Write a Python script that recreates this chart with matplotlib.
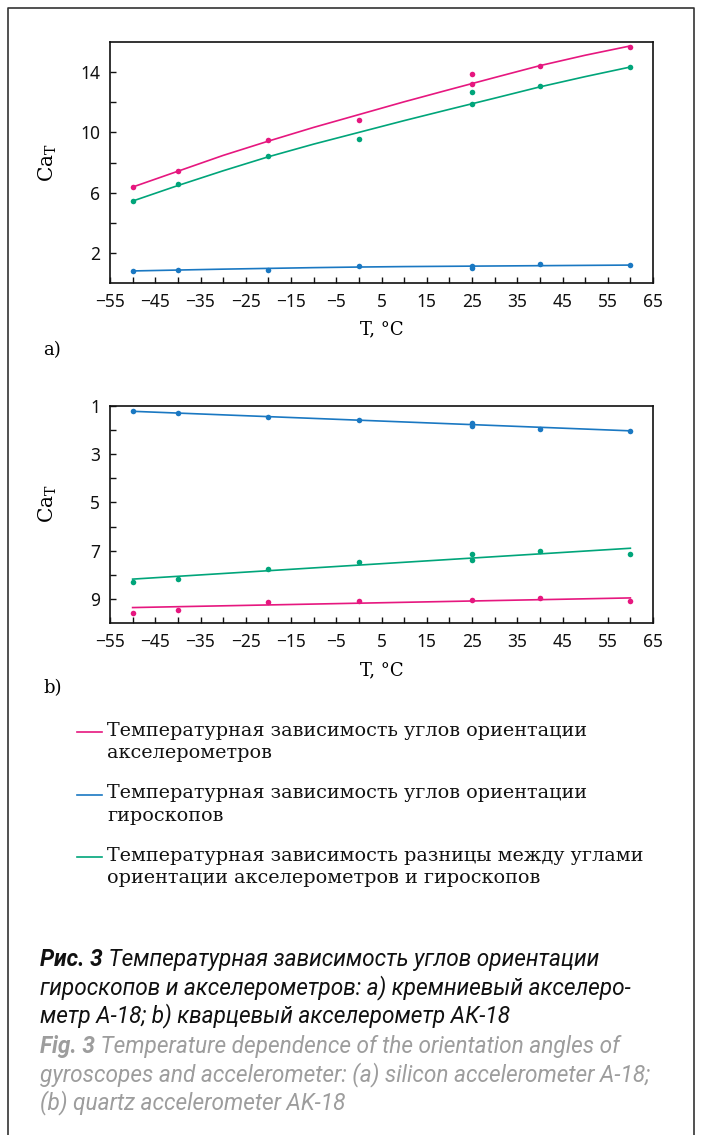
import matplotlib
matplotlib.use("Agg")
import matplotlib.pyplot as plt
from matplotlib.lines import Line2D
from matplotlib.text import Annotation
from matplotlib.ticker import MultipleLocator, FixedLocator

plt.rcParams["mathtext.fontset"] = "dejavuserif"

PINK = "#e6177f"
BLUE = "#1a78c2"
GREEN = "#00a57a"

SANS = ["Noto Sans", "DejaVu Sans"]
SERIF = ["DejaVu Serif"]
CAPTION = ["Roboto", "DejaVu Sans"]

# --- panel a) silicon accelerometer A-18 ---
a_t_accel = [-50, -40, -20, 0, 25, 25, 40, 60]
a_accel = [6.37, 7.43, 9.48, 10.81, 13.86, 13.24, 14.43, 15.69]
a_t_gyro = [-50, -40, -20, 0, 25, 25, 40, 60]
a_gyro = [0.80, 0.84, 0.84, 1.10, 1.13, 0.97, 1.26, 1.19]
a_t_diff = [-50, -40, -20, 0, 25, 25, 40, 60]
a_diff = [5.44, 6.56, 8.42, 9.53, 12.66, 11.91, 13.06, 14.34]

a_t_fit = [-50, -40, -30, -20, -10, 0, 10, 20, 30, 40, 50, 60]
a_accel_fit = [6.37, 7.42, 8.47, 9.42, 10.33, 11.18, 12.03, 12.84, 13.64, 14.43, 15.12, 15.74]
a_gyro_fit = [0.80, 0.86, 0.92, 0.97, 1.02, 1.06, 1.09, 1.11, 1.13, 1.15, 1.17, 1.19]
a_diff_fit = [5.44, 6.47, 7.45, 8.38, 9.22, 10.0, 10.78, 11.53, 12.27, 13.02, 13.70, 14.34]

# --- panel b) quartz accelerometer AK-18 ---
b_t_accel = [-50, -40, -20, 0, 25, 40, 60]
b_accel = [9.58, 9.47, 9.13, 9.10, 9.03, 8.96, 9.07]
b_t_gyro = [-50, -40, -20, 0, 25, 25, 40, 60]
b_gyro = [1.22, 1.30, 1.44, 1.59, 1.69, 1.81, 1.95, 2.05]
b_t_diff = [-50, -40, -20, 0, 25, 25, 40, 60]
b_diff = [8.29, 8.19, 7.76, 7.49, 7.12, 7.40, 7.00, 7.12]

b_t_fit = [-50, 60]
b_accel_fit = [9.36, 8.96]
b_gyro_fit = [1.22, 2.03]
b_diff_fit = [8.18, 6.90]

x_major = [-55, -45, -35, -25, -15, -5, 5, 15, 25, 35, 45, 55, 65]

legend_labels = [
    "Температурная зависимость углов ориентации\nакселерометров",
    "Температурная зависимость углов ориентации\nгироскопов",
    "Температурная зависимость разницы между углами\nориентации акселерометров и гироскопов",
]
legend_colors = [PINK, BLUE, GREEN]

cap_ru_bold = "Рис. 3"
cap_ru = [
    "Температурная зависимость углов ориентации",
    "гироскопов и акселерометров: a) кремниевый акселеро-",
    "метр А-18; b) кварцевый акселерометр АК-18",
]
cap_en_bold = "Fig. 3"
cap_en = [
    "Temperature dependence of the orientation angles of",
    "gyroscopes and accelerometer: (a) silicon accelerometer A-18;",
    "(b) quartz accelerometer AK-18",
]

W, H = 701, 1135
fig = plt.figure(figsize=(W / 100, H / 100), dpi=100)


def fx(px):
    return px / W


def fy(py):
    return 1 - py / H


def style_axes(ax):
    for sp in ax.spines.values():
        sp.set_linewidth(1.2)
        sp.set_color("#111111")
    ax.set_xlim(-55, 65)
    ax.xaxis.set_major_locator(FixedLocator(x_major))
    ax.xaxis.set_minor_locator(MultipleLocator(10))
    ax.tick_params(which="both", direction="in", length=4.5, width=1.0,
                   top=False, right=False, colors="#111111")
    ax.tick_params(which="major", pad=7, labelsize=12.5)
    for lab in ax.get_xticklabels() + ax.get_yticklabels():
        lab.set_family(SANS)
    ax.set_xlabel("T, °C", family=SERIF, fontsize=13)
    ax.text(-0.114, 0.5, r"Ca$_{\mathrm{T}}$", transform=ax.transAxes,
            rotation=90, ha="center", va="center", fontsize=14.5, family=SERIF)


def draw(ax, t, vals, t_fit, fit, color):
    ax.plot(t_fit, fit, color=color, lw=1.2, zorder=2)
    ax.plot(t, vals, "o", color=color, ms=4, mew=0, zorder=3)


# panel a
ax1 = fig.add_axes([fx(110), fy(283), fx(543), (283 - 42) / H])
draw(ax1, a_t_accel, a_accel, a_t_fit, a_accel_fit, PINK)
draw(ax1, a_t_gyro, a_gyro, a_t_fit, a_gyro_fit, BLUE)
draw(ax1, a_t_diff, a_diff, a_t_fit, a_diff_fit, GREEN)
ax1.set_ylim(0, 16)
ax1.yaxis.set_major_locator(FixedLocator([2, 6, 10, 14]))
ax1.yaxis.set_minor_locator(FixedLocator([4, 8, 12]))
style_axes(ax1)
ax1.xaxis.set_label_coords(0.5, -0.155)
fig.text(fx(43), fy(350), "a)", family=SERIF, fontsize=13, va="center")

# panel b
ax2 = fig.add_axes([fx(110), fy(623), fx(543), (623 - 406) / H])
draw(ax2, b_t_accel, b_accel, b_t_fit, b_accel_fit, PINK)
draw(ax2, b_t_gyro, b_gyro, b_t_fit, b_gyro_fit, BLUE)
draw(ax2, b_t_diff, b_diff, b_t_fit, b_diff_fit, GREEN)
ax2.set_ylim(10, 1)
ax2.yaxis.set_major_locator(FixedLocator([1, 3, 5, 7, 9]))
ax2.yaxis.set_minor_locator(FixedLocator([2, 4, 6, 8]))
style_axes(ax2)
ax2.texts[0].set_y(0.55)
ax2.xaxis.set_label_coords(0.5, -0.175)
fig.text(fx(43), fy(688), "b)", family=SERIF, fontsize=13, va="center")

# legend (manual, handle aligned with first text line)
for i, (lab, col) in enumerate(zip(legend_labels, legend_colors)):
    y0 = 732 + i * 62.5
    fig.add_artist(Line2D([fx(77), fx(102)], [fy(y0), fy(y0)], color=col, lw=1.2))
    fig.text(fx(107), fy(y0 - 10), lab, family=SERIF, fontsize=13.8,
             va="top", ha="left", linespacing=1.3, color="#111111")

# caption
def caption_block(bold, lines, y_first, color):
    first = fig.text(fx(40), fy(y_first), bold, family=CAPTION, style="italic",
                     weight="bold", fontsize=16.3, color=color, va="baseline")
    fig.add_artist(Annotation(" " + lines[0], xy=(1, 0), xycoords=first,
                              va="bottom", ha="left", family=CAPTION,
                              style="italic", fontsize=16.3, color=color))
    for k, line in enumerate(lines[1:], start=1):
        fig.text(fx(40), fy(y_first + 28 * k), line, family=CAPTION,
                 style="italic", fontsize=16.3, color=color, va="baseline")


caption_block(cap_ru_bold, cap_ru, 966, "#111111")
caption_block(cap_en_bold, cap_en, 1053, "#9d9d9d")

# outer frame (open at the bottom)
frame_x = [fx(8), fx(8), fx(694), fx(694)]
frame_y = [0, fy(7.5), fy(7.5), 0]
fig.add_artist(Line2D(frame_x, frame_y, color="#333333", lw=1.2))

fig.savefig("out.png", dpi=100)
